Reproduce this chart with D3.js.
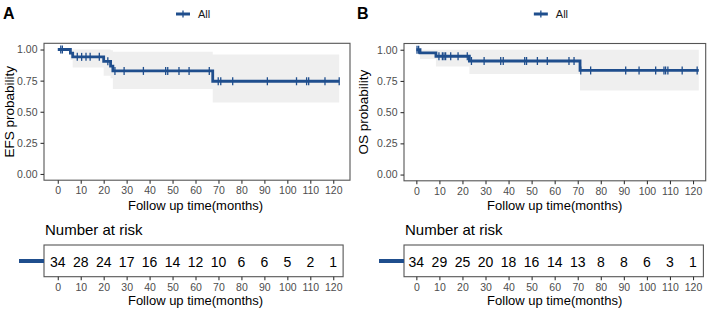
<!DOCTYPE html>
<html>
<head>
<meta charset="utf-8">
<script src="https://cdn.jsdelivr.net/npm/d3@7"></script>
<style>
  body { margin: 0; background: #fff; }
  svg { display: block; font-family: "Liberation Sans", Arial, sans-serif; }
</style>
</head>
<body>
<svg width="708" height="310"></svg>
<script>
// ---- data ----
const timeTicks = [0, 10, 20, 30, 40, 50, 60, 70, 80, 90, 100, 110, 120];
const probTicks = [0, 0.25, 0.5, 0.75, 1];

// EFS (panel A): step start times and values
const efsTimes = [0, 5.5, 6.5, 20, 23, 24, 67.5, 122.6];
const efsSurv  = [1, 0.971, 0.941, 0.905, 0.866, 0.828, 0.745, 0.745];
const efsLower = [1, 0.915, 0.855, 0.79, 0.77, 0.683, 0.575, 0.575];
const efsUpper = [1, 1, 1, 1, 0.995, 0.982, 0.96, 0.96];
const efsCensor = [1.3, 2, 8.5, 10.4, 12.3, 14.1, 18.1, 21.8, 24.9, 28.9, 37.3, 47.0, 47.9,
                   52.8, 57.2, 66.0, 69.9, 71, 76.2, 91.3, 104, 108.4, 109.3, 116.4, 122.6];
const efsRisk = [34, 28, 24, 17, 16, 14, 12, 10, 6, 6, 5, 2, 1];

// OS (panel B)
const osTimes = [0, 1.6, 8.5, 23, 71, 122.5];
const osSurv  = [1, 0.975, 0.948, 0.91, 0.834, 0.834];
const osLower = [1, 0.925, 0.866, 0.806, 0.674, 0.674];
const osUpper = [1, 1, 1, 1, 1, 1];
const osCensor = [0.3, 1, 9.8, 11.3, 12, 12.7, 14.9, 18.1, 22.1, 23.9, 29.4, 36.6, 37.7, 47,
                  47.8, 52.5, 56.8, 66.2, 68.4, 71.3, 75.6, 90.8, 96.6, 103.8, 107.4, 108.1,
                  109.1, 115.3, 121.8];
const osRisk = [34, 29, 25, 20, 18, 16, 14, 13, 8, 8, 6, 3, 1];

const lineColor = "#1f4e8d";
const bandColor = "#efefef";

const panels = [
  {letter: "A", ylab: "EFS probability", times: efsTimes, surv: efsSurv, lower: efsLower,
   upper: efsUpper, censor: efsCensor, risk: efsRisk,
   left: 0, boxX: [44, 350], boxY: [43.3, 180.2], xDomain: [-6, 127.3], tableEnd: 124.3},
  {letter: "B", ylab: "OS probability", times: osTimes, surv: osSurv, lower: osLower,
   upper: osUpper, censor: osCensor, risk: osRisk,
   left: 354, boxX: [404, 705.7], boxY: [43.5, 180.8], xDomain: [-5.35, 125.5], tableEnd: 124.5}
];

const svg = d3.select("svg");

panels.forEach(function (p) {
  const g = svg.append("g");

  const x = d3.scaleLinear().domain(p.xDomain).range(p.boxX);
  const y = d3.scaleLinear().domain([-0.05, 1.05]).range([p.boxY[1], p.boxY[0]]);

  // panel letter
  g.append("text")
    .attr("x", p.left + 3).attr("y", 18.5)
    .attr("font-size", 16).attr("font-weight", "bold")
    .text(p.letter);

  // legend
  const lx = (p.boxX[0] + p.boxX[1]) / 2 - 14;
  g.append("line")
    .attr("x1", lx - 7).attr("x2", lx + 7).attr("y1", 14).attr("y2", 14)
    .attr("stroke", lineColor).attr("stroke-width", 3);
  g.append("line")
    .attr("x1", lx).attr("x2", lx).attr("y1", 10.5).attr("y2", 17.5)
    .attr("stroke", lineColor).attr("stroke-width", 1.3);
  g.append("text")
    .attr("x", lx + 15).attr("y", 14).attr("dy", "0.35em")
    .attr("font-size", 11).attr("fill", "#1a1a1a")
    .text("All");

  // confidence band
  const pts = p.times.map((t, i) => ({t: t, s: p.surv[i], lo: p.lower[i], hi: p.upper[i]}));
  g.append("path")
    .datum(pts)
    .attr("fill", bandColor)
    .attr("d", d3.area().curve(d3.curveStepAfter)
      .x(d => x(d.t)).y0(d => y(d.lo)).y1(d => y(d.hi)));

  // survival curve
  g.append("path")
    .datum(pts)
    .attr("fill", "none")
    .attr("stroke", lineColor).attr("stroke-width", 2.8)
    .attr("d", d3.line().curve(d3.curveStepAfter).x(d => x(d.t)).y(d => y(d.s)));

  // censor marks
  const survAt = function (t) {
    let s = p.surv[0];
    p.times.forEach((tt, i) => { if (tt <= t) s = p.surv[i]; });
    return s;
  };
  g.selectAll(".cens")
    .data(p.censor)
    .enter().append("line")
    .attr("x1", d => x(d)).attr("x2", d => x(d))
    .attr("y1", d => y(survAt(d)) - 4).attr("y2", d => y(survAt(d)) + 4)
    .attr("stroke", lineColor).attr("stroke-width", 1.3);

  // frame
  g.append("rect")
    .attr("x", p.boxX[0]).attr("y", p.boxY[0])
    .attr("width", p.boxX[1] - p.boxX[0]).attr("height", p.boxY[1] - p.boxY[0])
    .attr("fill", "none").attr("stroke", "#555").attr("stroke-width", 1.1);

  // axes
  const xAxis = g.append("g")
    .attr("transform", "translate(0," + p.boxY[1] + ")")
    .call(d3.axisBottom(x).tickValues(timeTicks).tickSize(3.5).tickPadding(3));
  const yAxis = g.append("g")
    .attr("transform", "translate(" + p.boxX[0] + ",0)")
    .call(d3.axisLeft(y).tickValues(probTicks).tickFormat(d3.format(".2f")).tickSize(3.5).tickPadding(3));
  [xAxis, yAxis].forEach(a => {
    a.select(".domain").remove();
    a.selectAll(".tick line").attr("stroke", "#333").attr("stroke-width", 1.1);
    a.selectAll(".tick text").attr("fill", "#4d4d4d").attr("font-size", 10.5)
      .attr("font-family", "Liberation Sans, Arial, sans-serif");
  });

  g.append("text")
    .attr("x", x(60)).attr("y", 209.6)
    .attr("text-anchor", "middle").attr("font-size", 13)
    .text("Follow up time(months)");

  g.append("text")
    .attr("transform", "translate(" + (p.left + 9.5) + "," + y(0.5) + ") rotate(-90)")
    .attr("text-anchor", "middle").attr("dy", "0.35em").attr("font-size", 13.5)
    .text(p.ylab);

  // ---- number at risk table ----
  const tTop = 245, tBot = 276.7;
  g.append("text")
    .attr("x", p.boxX[0] + 1).attr("y", 235.4)
    .attr("font-size", 15)
    .text("Number at risk");

  g.append("rect")
    .attr("x", p.boxX[0]).attr("y", tTop)
    .attr("width", x(p.tableEnd) - p.boxX[0]).attr("height", tBot - tTop)
    .attr("fill", "none").attr("stroke", "#555").attr("stroke-width", 1.1);

  g.append("line")
    .attr("x1", p.boxX[0] - 25).attr("x2", p.boxX[0]).attr("y1", 261).attr("y2", 261)
    .attr("stroke", lineColor).attr("stroke-width", 4);

  g.selectAll(".risk")
    .data(p.risk)
    .enter().append("text")
    .attr("x", (d, i) => x(timeTicks[i])).attr("y", 266.7)
    .attr("text-anchor", "middle").attr("font-size", 14)
    .text(d => d);

  const tAxis = g.append("g")
    .attr("transform", "translate(0," + tBot + ")")
    .call(d3.axisBottom(x).tickValues(timeTicks).tickSize(3.5).tickPadding(3));
  tAxis.select(".domain").remove();
  tAxis.selectAll(".tick line").attr("stroke", "#333").attr("stroke-width", 1.1);
  tAxis.selectAll(".tick text").attr("fill", "#4d4d4d").attr("font-size", 10.5)
    .attr("font-family", "Liberation Sans, Arial, sans-serif");

  g.append("text")
    .attr("x", x(60)).attr("y", 304.6)
    .attr("text-anchor", "middle").attr("font-size", 13)
    .text("Follow up time(months)");
});
</script>
</body>
</html>
